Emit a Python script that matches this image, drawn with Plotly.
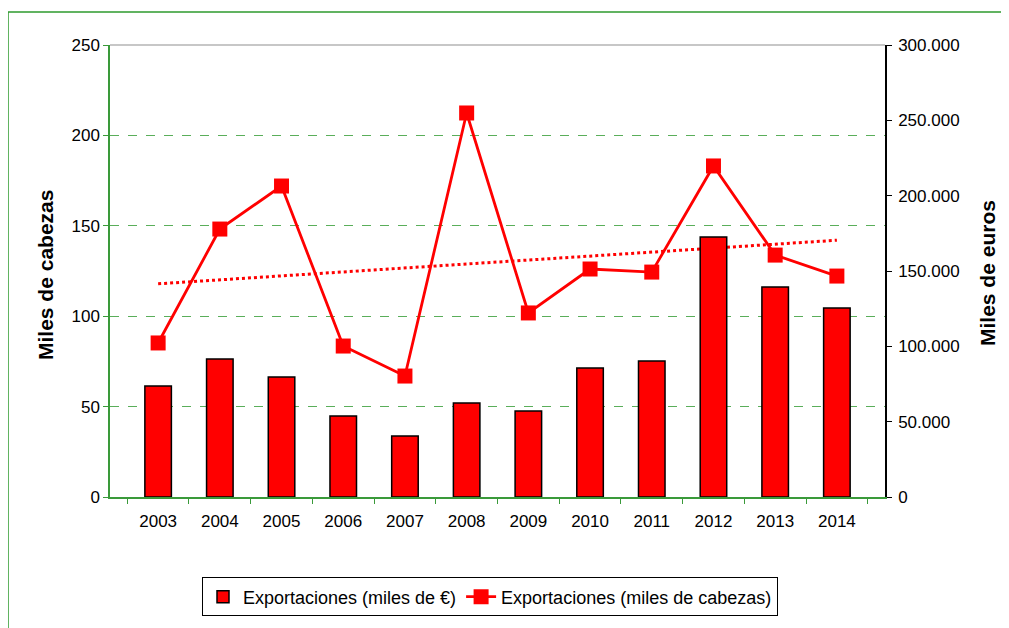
import numpy as np
import plotly.graph_objects as go

years = ["2003", "2004", "2005", "2006", "2007", "2008", "2009", "2010", "2011", "2012", "2013", "2014"]
euros = [73700, 91600, 79600, 53800, 40500, 62400, 57100, 85600, 90300, 172600, 139400, 125400]
cabezas = [85.2, 148.2, 172.0, 83.5, 66.9, 212.4, 101.8, 126.1, 124.4, 183.1, 133.8, 122.2]

idx = np.arange(len(years))
slope, intercept = np.polyfit(idx, cabezas, 1)
trend = slope * idx + intercept

RED = "#FF0000"
GREEN = "#3A9A3A"
FONT = "Liberation Sans, Arial, sans-serif"

# page has 8px body margin; figure sized to fit the visible window
W, H = 1001, 620
L, T, R, B = 102, 37, 124, 131
PW, PH = W - L - R, H - T - B

fig = go.Figure()
fig.add_trace(go.Bar(
    x=years, y=euros, name="Exportaciones (miles de €)", yaxis="y2",
    marker=dict(color=RED, line=dict(color="black", width=1.5)), width=0.43,
))
fig.add_trace(go.Scatter(
    x=years, y=cabezas, name="Exportaciones (miles de cabezas)", mode="lines+markers",
    line=dict(color=RED, width=2.8), marker=dict(symbol="square", size=15, color=RED),
))
fig.add_trace(go.Scatter(
    x=years, y=trend, mode="lines", showlegend=False, hoverinfo="skip",
    line=dict(color=RED, width=3, dash="dot"),
))

fig.update_layout(
    width=W, height=H,
    margin=dict(l=L, r=R, t=T, b=B),
    paper_bgcolor="white", plot_bgcolor="white",
    separators=",.",
    font=dict(family=FONT, size=17, color="black"),
    showlegend=True,
    legend=dict(
        orientation="h", x=(482 - L) / PW, xanchor="center", y=-0.178, yanchor="top",
        bordercolor="black", borderwidth=1, font=dict(size=18, family=FONT),
        traceorder="normal",
    ),
    xaxis=dict(
        type="category", tickson="boundaries", ticks="outside", ticklen=5,
        tickcolor=GREEN, showline=True, linecolor=GREEN, linewidth=1.5,
        showgrid=False, tickfont=dict(size=17), ticklabelstandoff=8,
    ),
    yaxis=dict(
        range=[0, 250], dtick=50, ticks="outside", ticklen=5, tickcolor=GREEN,
        showline=True, linecolor=GREEN, linewidth=1.5,
        showgrid=True, gridcolor="#5AAE5A", griddash="dash", gridwidth=1,
        zeroline=False, tickfont=dict(size=17),
    ),
    yaxis2=dict(
        range=[0, 300000], dtick=50000, overlaying="y", side="right",
        tickformat=",d", ticks="outside", ticklen=5, tickcolor="black",
        showline=True, linecolor="black", linewidth=1.5, showgrid=False,
        zeroline=False, tickfont=dict(size=17), ticklabelstandoff=3,
    ),
    annotations=[
        dict(text="<b>Miles de cabezas</b>", textangle=-90, xref="paper", yref="paper",
             x=(37 - L) / PW, y=(H - B - 267) / PH, xanchor="center", yanchor="middle",
             showarrow=False, font=dict(size=21, family=FONT)),
        dict(text="<b>Miles de euros</b>", textangle=-90, xref="paper", yref="paper",
             x=(979 - L) / PW, y=(H - B - 265) / PH, xanchor="center", yanchor="middle",
             showarrow=False, font=dict(size=21, family=FONT)),
    ],
    shapes=[
        dict(type="line", xref="paper", yref="paper", x0=0, x1=1, y0=1, y1=1,
             line=dict(color="#909090", width=1.2), layer="below"),
        dict(type="rect", xref="paper", yref="paper",
             x0=(0 - L) / PW, x1=1.3, y0=(H - B - 4) / PH, y1=-0.5,
             line=dict(color="#2E9A2E", width=1.5), layer="below"),
    ],
)

fig.write_html("out.html")
